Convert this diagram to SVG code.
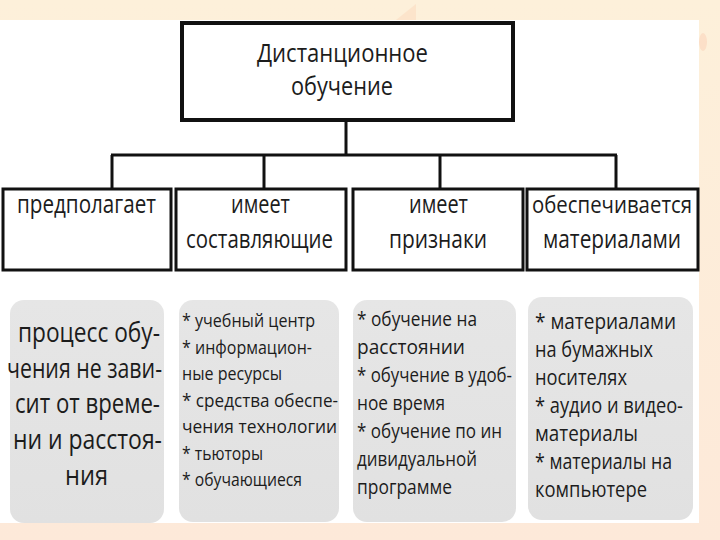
<svg xmlns="http://www.w3.org/2000/svg" width="720" height="540" viewBox="0 0 720 540">
<defs>
<linearGradient id="bg" x1="0" y1="0" x2="0" y2="1">
<stop offset="0" stop-color="#fdf0da"/>
<stop offset="1" stop-color="#fde9d9"/>
</linearGradient>
<linearGradient id="gr" x1="0" y1="0" x2="0" y2="1">
<stop offset="0" stop-color="#e6e6e6"/>
<stop offset="1" stop-color="#e1e1e1"/>
</linearGradient>
<style>
text{font-family:"Open Sans","Noto Sans","DejaVu Sans",sans-serif;fill:#1c1c1c;}
.box{fill:#fff;stroke:#111;stroke-width:3;}
.main{fill:#fff;stroke:#111;stroke-width:4;}
.gbox{fill:url(#gr);}
.ln{stroke:#111;stroke-width:3;fill:none;}
.t1{font-size:26px;}
.t2{font-size:26px;}
.t2s{font-size:24px;}
.t3{font-size:28px;}
.t4{font-size:18px;}
.t5{font-size:20.5px;}
.t6{font-size:21px;}
</style>
</defs>
<rect x="0" y="0" width="720" height="540" fill="url(#bg)"/>
<polygon points="396,20 416,20 416,4" fill="#fbdcc2" opacity="0.6"/>
<ellipse cx="703" cy="42" rx="4" ry="9" fill="#fbd9c0" opacity="0.7"/>
<rect x="0" y="20" width="699" height="503" fill="#ffffff"/>

<g id="connectors">
<line class="ln" x1="346" y1="120" x2="346" y2="155"/>
<line class="ln" x1="111" y1="155" x2="617" y2="155"/>
<line class="ln" x1="112" y1="155" x2="112" y2="189"/>
<line class="ln" x1="264" y1="155" x2="264" y2="189"/>
<line class="ln" x1="440" y1="155" x2="440" y2="189"/>
<line class="ln" x1="616" y1="155" x2="616" y2="189"/>
</g>

<g id="root">
<rect class="main" x="182" y="23" width="331" height="97"/>
<text class="t1" x="257" y="62" textLength="171" lengthAdjust="spacingAndGlyphs">Дистанционное</text>
<text class="t1" x="291" y="95" textLength="102" lengthAdjust="spacingAndGlyphs">обучение</text>
</g>

<g id="n1">
<rect class="box" x="3" y="189" width="168" height="81"/>
<text class="t2" x="17" y="213" textLength="139" lengthAdjust="spacingAndGlyphs">предполагает</text>
</g>
<g id="n2">
<rect class="box" x="176" y="189" width="170" height="81"/>
<text class="t2" x="231" y="213" textLength="59" lengthAdjust="spacingAndGlyphs">имеет</text>
<text class="t2" x="186" y="248" textLength="147" lengthAdjust="spacingAndGlyphs">составляющие</text>
</g>
<g id="n3">
<rect class="box" x="353" y="189" width="170" height="81"/>
<text class="t2" x="409" y="213" textLength="59" lengthAdjust="spacingAndGlyphs">имеет</text>
<text class="t2" x="389" y="248" textLength="98" lengthAdjust="spacingAndGlyphs">признаки</text>
</g>
<g id="n4">
<rect class="box" x="527" y="189" width="171" height="81"/>
<text class="t2s" x="532" y="213" textLength="160" lengthAdjust="spacingAndGlyphs">обеспечивается</text>
<text class="t2" x="543" y="248" textLength="138" lengthAdjust="spacingAndGlyphs">материалами</text>
</g>

<g id="d1">
<rect class="gbox" x="10" y="300" width="154" height="223" rx="14"/>
<text class="t3" x="18" y="342" textLength="142" lengthAdjust="spacingAndGlyphs">процесс обу-</text>
<text class="t3" x="7" y="378" textLength="155" lengthAdjust="spacingAndGlyphs">чения не зави-</text>
<text class="t3" x="15" y="413" textLength="145" lengthAdjust="spacingAndGlyphs">сит от време-</text>
<text class="t3" x="13" y="449" textLength="149" lengthAdjust="spacingAndGlyphs">ни и расстоя-</text>
<text class="t3" x="65" y="485" textLength="43" lengthAdjust="spacingAndGlyphs">ния</text>
</g>

<g id="d2">
<rect class="gbox" x="179" y="300" width="160" height="222" rx="14"/>
<text class="t4" x="182" y="327" textLength="133" lengthAdjust="spacingAndGlyphs">* учебный центр</text>
<text class="t4" x="182" y="353.5" textLength="130" lengthAdjust="spacingAndGlyphs">* информацион-</text>
<text class="t4" x="182" y="380" textLength="100" lengthAdjust="spacingAndGlyphs">ные ресурсы</text>
<text class="t4" x="182" y="406.5" textLength="156" lengthAdjust="spacingAndGlyphs">* средства обеспе-</text>
<text class="t4" x="182" y="433" textLength="155" lengthAdjust="spacingAndGlyphs">чения технологии</text>
<text class="t4" x="182" y="459.5" textLength="81" lengthAdjust="spacingAndGlyphs">* тьюторы</text>
<text class="t4" x="182" y="486" textLength="120" lengthAdjust="spacingAndGlyphs">* обучающиеся</text>
</g>

<g id="d3">
<rect class="gbox" x="353" y="300" width="163" height="222" rx="14"/>
<text class="t5" x="357" y="326" textLength="120" lengthAdjust="spacingAndGlyphs">* обучение на</text>
<text class="t5" x="357" y="354" textLength="108" lengthAdjust="spacingAndGlyphs">расстоянии</text>
<text class="t5" x="357" y="382" textLength="155" lengthAdjust="spacingAndGlyphs">* обучение в удоб-</text>
<text class="t5" x="357" y="410" textLength="88" lengthAdjust="spacingAndGlyphs">ное время</text>
<text class="t5" x="357" y="438" textLength="145" lengthAdjust="spacingAndGlyphs">* обучение по ин</text>
<text class="t5" x="357" y="466" textLength="120" lengthAdjust="spacingAndGlyphs">дивидуальной</text>
<text class="t5" x="357" y="494" textLength="95" lengthAdjust="spacingAndGlyphs">программе</text>
</g>

<g id="d4">
<rect class="gbox" x="528" y="297" width="165" height="223" rx="14"/>
<text class="t6" x="535" y="329" textLength="141" lengthAdjust="spacingAndGlyphs">* материалами</text>
<text class="t6" x="535" y="357" textLength="118" lengthAdjust="spacingAndGlyphs">на бумажных</text>
<text class="t6" x="535" y="385" textLength="92" lengthAdjust="spacingAndGlyphs">носителях</text>
<text class="t6" x="535" y="413" textLength="148" lengthAdjust="spacingAndGlyphs">* аудио и видео-</text>
<text class="t6" x="535" y="441" textLength="103" lengthAdjust="spacingAndGlyphs">материалы</text>
<text class="t6" x="535" y="469" textLength="137" lengthAdjust="spacingAndGlyphs">* материалы на</text>
<text class="t6" x="535" y="497" textLength="112" lengthAdjust="spacingAndGlyphs">компьютере</text>
</g>
</svg>
